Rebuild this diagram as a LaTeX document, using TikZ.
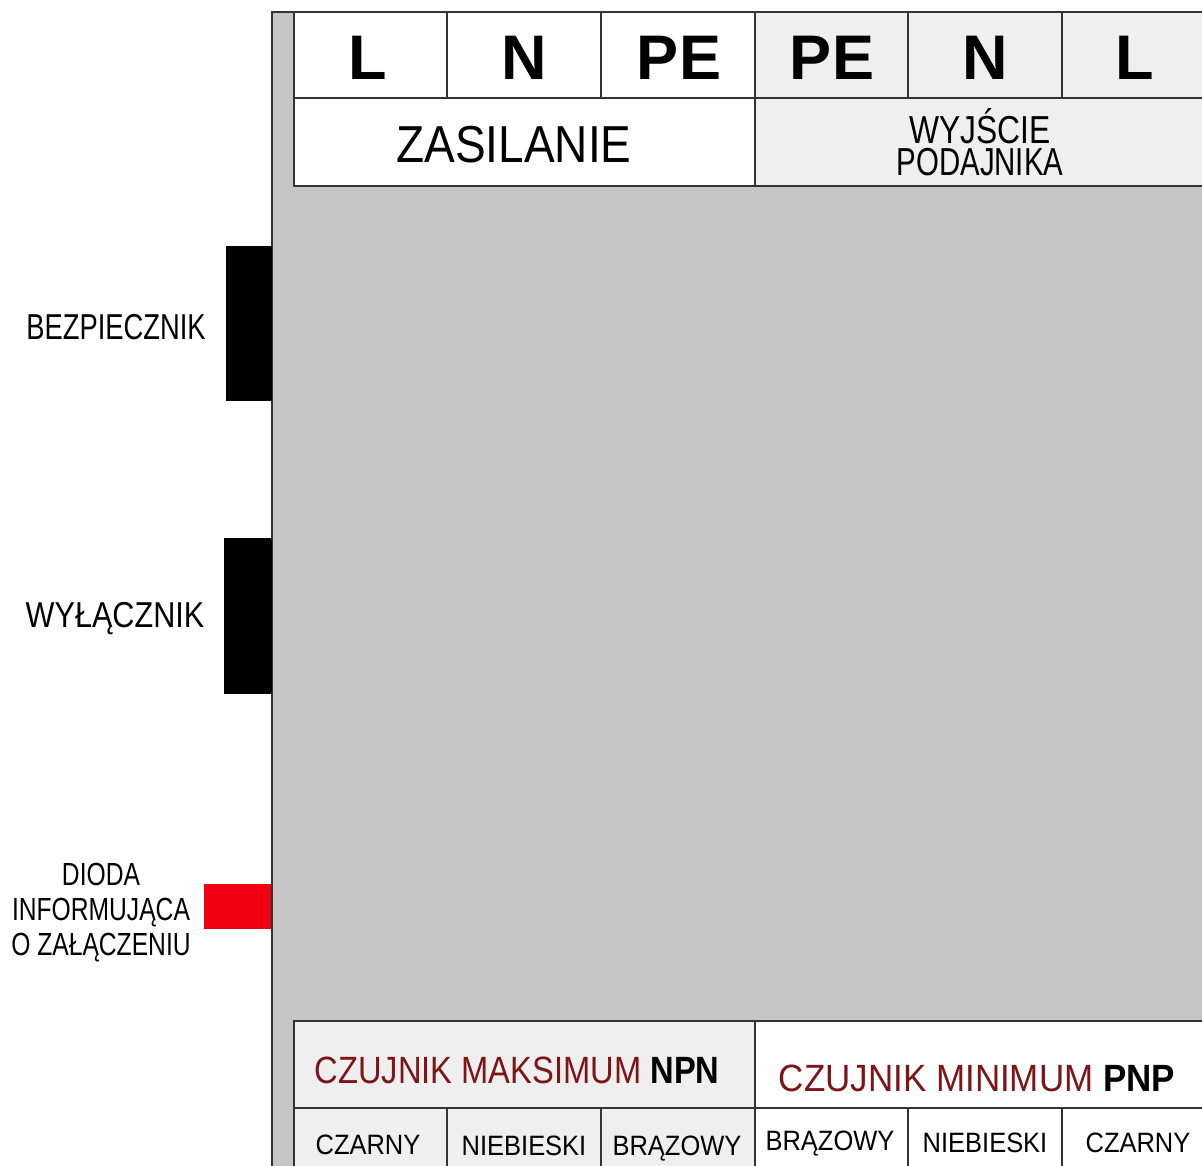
\documentclass[tikz,border=0pt]{standalone}
\usepackage{fontspec}
\setmainfont{Liberation Sans}
\usepackage{tikz}
\usetikzlibrary{calc}
\definecolor{panelgray}{HTML}{C6C6C6}
\definecolor{cellgray}{HTML}{EFEFEF}
\definecolor{edgegray}{HTML}{333333}
\definecolor{darkred}{HTML}{7F1416}
\definecolor{diodered}{HTML}{EE0010}
\newcommand{\squeeze}[1]{\addfontfeatures{FakeStretch=#1}}
\newcommand{\fsz}[1]{\fontsize{#1}{#1}\selectfont}
\tikzstyle{cell} = [draw=edgegray, line width=2pt]
\tikzstyle{txt} = [anchor=base, inner sep=0pt]
\tikzstyle{terminal} = [txt, font=\fsz{63}\bfseries]
\tikzstyle{wire} = [txt, font=\fsz{28}\squeeze{0.91}]

\begin{document}
\begin{tikzpicture}[x=1pt, y=-1pt]
      \useasboundingbox (0,0) rectangle (1202,1166);
      \clip (0,0) rectangle (1202,1166);

      % housing
      \fill[panelgray] (272,12) rectangle (1210,1175);
      \draw[cell] (272,1175) -- (272,12) -- (1210,12);

      % upper terminal block
      \fill[white] (294,12) rectangle (755,186);
      \fill[cellgray] (755,12) rectangle (1210,186);
      \draw[cell] (294,12) rectangle (1210,186);
      \draw[cell] (294,98) -- (1210,98);
      \foreach \x in {447,601,908,1062}
        \draw[cell] (\x,12) -- (\x,98);
      \draw[cell] (755,12) -- (755,186);

      \node[terminal] (inL)  at (368,80) {L};
      \node[terminal] (inN)  at (524,80) {N};
      \node[terminal] (inPE) at (679,80) {PE};
      \node[terminal] (outPE) at (832,80) {PE};
      \node[terminal] (outN)  at (985,80) {N};
      \node[terminal] (outL)  at (1135,80) {L};
      \node[txt, font=\fsz{52}\squeeze{0.885}] (supply) at (514,163) {ZASILANIE};
      \node[inner sep=0pt, align=center, font=\fontsize{39}{32}\selectfont, anchor=south] (feed) at (980,176)
        {{\squeeze{0.815}WYJŚCIE}\\{\squeeze{0.755}PODAJNIKA}};

      % side elements
      \fill[black] (226,246) rectangle (272,401);
      \fill[black] (224,538) rectangle (272,694);
      \fill[diodered] (204,884) rectangle (271,929);
      \node[txt, font=\fsz{36}\squeeze{0.76}] (fuse) at (116,339) {BEZPIECZNIK};
      \node[txt, font=\fsz{36}\squeeze{0.85}] (switch) at (115,627) {WYŁĄCZNIK};
      \node[txt, font=\fsz{32}\squeeze{0.77}] (diodeA) at (101,885) {DIODA};
      \node[txt, font=\fsz{32}\squeeze{0.77}] (diodeB) at (101,920) {INFORMUJĄCA};
      \node[txt, font=\fsz{32}\squeeze{0.77}] (diodeC) at (101,955) {O ZAŁĄCZENIU};

      % lower sensor block
      \fill[cellgray] (294,1021) rectangle (755,1175);
      \fill[white] (755,1021) rectangle (1210,1175);
      \draw[cell] (294,1175) -- (294,1021) -- (1210,1021);
      \draw[cell] (294,1108) -- (1210,1108);
      \draw[cell] (755,1021) -- (755,1175);
      \foreach \x in {447,601,908,1062}
        \draw[cell] (\x,1108) -- (\x,1175);

      \node[txt, font=\fsz{38}\squeeze{0.86}] (maxsens) at (517,1083) {\textcolor{darkred}{CZUJNIK MAKSIMUM} \textbf{NPN}};
      \node[txt, font=\fsz{38}\squeeze{0.92}] (minsens) at (977,1091) {\textcolor{darkred}{CZUJNIK MINIMUM} \textbf{PNP}};
      \node[wire] (w1) at (368,1154) {CZARNY};
      \node[wire] (w2) at (524,1155) {NIEBIESKI};
      \node[wire] (w3) at (677,1155) {BRĄZOWY};
      \node[wire] (w4) at (830,1150) {BRĄZOWY};
      \node[wire] (w5) at (985,1152) {NIEBIESKI};
      \node[wire] (w6) at (1138,1152) {CZARNY};
    \end{tikzpicture}
\end{document}
